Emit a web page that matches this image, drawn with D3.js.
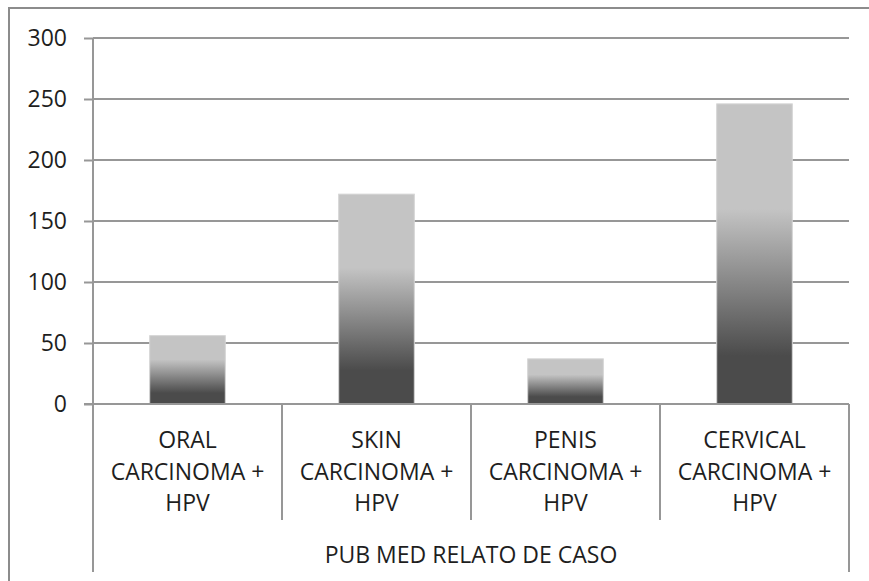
<!DOCTYPE html>
<html>
<head>
<meta charset="utf-8">
<script src="https://cdn.jsdelivr.net/npm/d3@7"></script>
<style>
  body { margin: 0; background: #fff; }
  text { font-family: "Open Sans", sans-serif; fill: #1e1e1e; }
</style>
</head>
<body>
<div id="container"></div>
<script>
/* DATA */
const categories = [
  ["ORAL", "CARCINOMA +", "HPV"],
  ["SKIN", "CARCINOMA +", "HPV"],
  ["PENIS", "CARCINOMA +", "HPV"],
  ["CERVICAL", "CARCINOMA +", "HPV"]
];
const values = [56, 172, 37, 246];
const yTicks = [0, 50, 100, 150, 200, 250, 300];
const groupLabel = "PUB MED RELATO DE CASO";

/* CONSTANTS */
const width = 869,
  height = 581,
  plotLeft = 93, plotRight = 849,
  plotTop = 38, plotBottom = 404,
  axisBottom = 572;

const svg = d3.select("#container")
  .append("svg")
  .attr("width", width)
  .attr("height", height);

// outer chart border (runs off the right and bottom edges)
svg.append("rect")
  .attr("x", 9).attr("y", 8)
  .attr("width", 900).attr("height", 600)
  .attr("fill", "none")
  .attr("stroke", "#8c8c8c")
  .attr("stroke-width", 2);

// SCALES
const xScale = d3.scaleBand()
  .domain(d3.range(categories.length))
  .range([plotLeft, plotRight])
  .padding(0);

const yScale = d3.scaleLinear()
  .domain([0, 300])
  .range([plotBottom, plotTop]);

// gradient for bars
const grad = svg.append("defs").append("linearGradient")
  .attr("id", "barGrad")
  .attr("x1", 0).attr("y1", 0).attr("x2", 0).attr("y2", 1);
grad.append("stop").attr("offset", "0").attr("stop-color", "#c4c4c4");
grad.append("stop").attr("offset", "0.35").attr("stop-color", "#c4c4c4");
grad.append("stop").attr("offset", "0.84").attr("stop-color", "#4b4b4b");
grad.append("stop").attr("offset", "1").attr("stop-color", "#4b4b4b");

// GRIDLINES
svg.append("g")
  .selectAll("line")
  .data(yTicks.slice(1))
  .join("line")
  .attr("x1", plotLeft).attr("x2", plotRight)
  .attr("y1", d => yScale(d)).attr("y2", d => yScale(d))
  .attr("stroke", "#979797")
  .attr("stroke-width", 2);

// Y AXIS
const yAxis = d3.axisLeft(yScale)
  .tickValues(yTicks)
  .tickSize(9)
  .tickPadding(17);

const yG = svg.append("g")
  .attr("transform", `translate(${plotLeft},0)`)
  .call(yAxis);
yG.select(".domain").remove();
yG.selectAll(".tick line").attr("stroke", "#979797").attr("stroke-width", 2);
yG.selectAll(".tick text")
  .style("font-family", "'Open Sans', sans-serif")
  .style("font-size", "23px")
  .attr("fill", "#1e1e1e");

// BARS
const barW = xScale.bandwidth() * 0.4;
svg.append("g")
  .selectAll("rect")
  .data(values)
  .join("rect")
  .attr("x", (d, i) => xScale(i) + xScale.bandwidth() / 2 - barW / 2)
  .attr("y", d => yScale(d))
  .attr("width", barW)
  .attr("height", d => yScale(0) - yScale(d))
  .attr("fill", "url(#barGrad)")
  .attr("stroke", "#d4d4d4")
  .attr("stroke-width", 1);

// axis lines
const axisColor = "#979797";
svg.append("line")
  .attr("x1", plotLeft).attr("x2", plotLeft)
  .attr("y1", plotTop).attr("y2", axisBottom)
  .attr("stroke", axisColor).attr("stroke-width", 2);
svg.append("line")
  .attr("x1", plotLeft - 9).attr("x2", plotRight)
  .attr("y1", yScale(0)).attr("y2", yScale(0))
  .attr("stroke", axisColor).attr("stroke-width", 2);
svg.append("line")
  .attr("x1", plotRight).attr("x2", plotRight)
  .attr("y1", yScale(0)).attr("y2", axisBottom)
  .attr("stroke", axisColor).attr("stroke-width", 2);

// separators between categories
svg.append("g")
  .selectAll("line")
  .data(d3.range(1, categories.length))
  .join("line")
  .attr("x1", i => xScale(i)).attr("x2", i => xScale(i))
  .attr("y1", yScale(0)).attr("y2", 520)
  .attr("stroke", axisColor).attr("stroke-width", 2);

// CATEGORY LABELS
const catG = svg.append("g")
  .selectAll("text")
  .data(categories)
  .join("text")
  .attr("text-anchor", "middle")
  .style("font-size", "23px");
catG.selectAll("tspan")
  .data((d, i) => d.map(t => ({ t, i })))
  .join("tspan")
  .attr("x", d => xScale(d.i) + xScale.bandwidth() / 2)
  .attr("y", (d, j) => 448 + j * 31.5)
  .text(d => d.t);

// group label
svg.append("text")
  .attr("x", (plotLeft + plotRight) / 2)
  .attr("y", 563)
  .attr("text-anchor", "middle")
  .style("font-size", "23px")
  .text(groupLabel);
</script>
</body>
</html>
